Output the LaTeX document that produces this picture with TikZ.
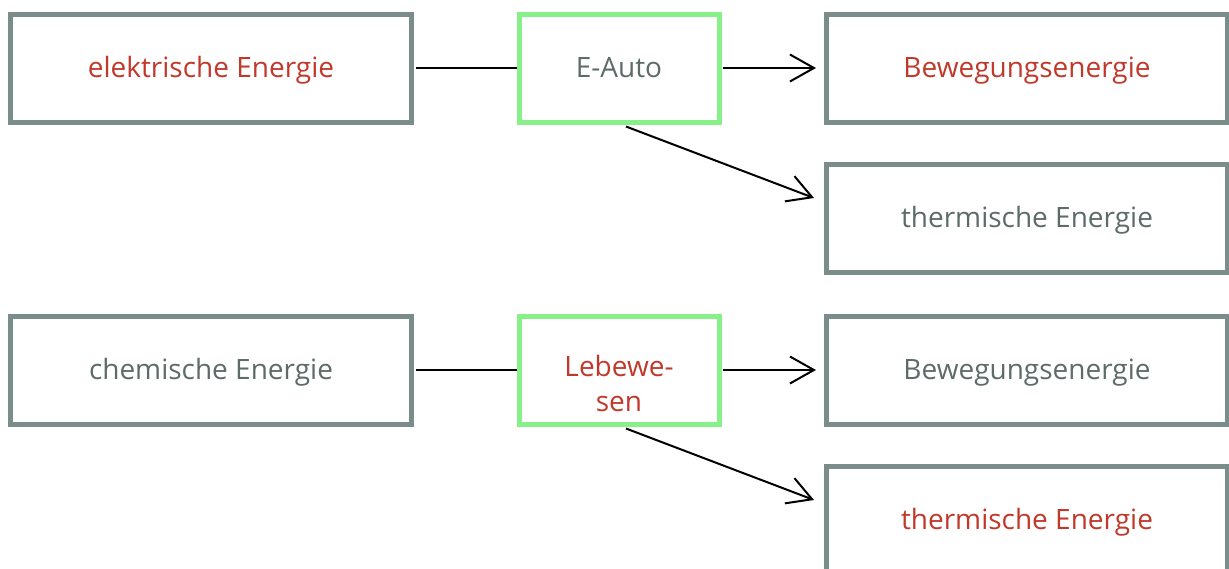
\documentclass[tikz,border=0pt]{standalone}
\usepackage{fontspec}
\setmainfont{Open Sans}
\usepackage{tikz}
\usetikzlibrary{positioning,arrows.meta}

\definecolor{boxgray}{RGB}{123,141,139}
\definecolor{boxgreen}{RGB}{136,240,136}
\definecolor{txtgray}{RGB}{93,107,105}
\definecolor{txtred}{RGB}{192,57,43}

\tikzset{
  energy/.style={draw=boxgray, line width=5pt, minimum width=401pt, minimum height=108pt, inner sep=0pt, text=txtgray, text height=23pt, text depth=4pt},
  converter/.style={draw=boxgreen, line width=5pt, minimum width=200pt, minimum height=108pt, inner sep=0pt, text=txtgray, align=center, text height=23pt, text depth=4pt},
  link/.style={line width=2pt, black},
  flow/.style={link, -{Straight Barb[length=24pt,width=27pt,line width=2pt]}}
}

\begin{document}
\begin{tikzpicture}[x=1pt, y=-1pt, font=\fontsize{28}{35}\selectfont]
\useasboundingbox (0,0) rectangle (1229,568);
% top row
\node[energy, text=txtred] (elek_a) at (211,68) {elektrische Energie};
\node[converter] (auto_b) at (619,68) {E-Auto};
\node[energy, text=txtred] (beweg_a) at (1027,68) {Bewegungsenergie};
\node[energy] (therm_a) at (1027,218) {thermische Energie};
% bottom row
\node[energy] (chem_a) at (211,370) {chemische Energie};
\node[converter, text=txtred, text height=86pt, text depth=4pt] (leben_b) at (619,370) {Lebewe-\\sen};
\node[energy] (beweg_b) at (1027,370) {Bewegungsenergie};
\node[energy, text=txtred] (therm_b) at (1027,520) {thermische Energie};
\draw[link, shorten <=2pt, shorten >=0pt] (elek_a) to (auto_b);
\draw[flow, shorten <=1pt, shorten >=8pt] (auto_b) to (beweg_a);
\draw[flow] ([xshift=7pt,yshift=-2pt]auto_b.south) to ([xshift=-10pt,yshift=20pt]therm_a.west);
\draw[link, shorten <=2pt, shorten >=0pt] (chem_a) to (leben_b);
\draw[flow, shorten <=1pt, shorten >=8pt] (leben_b) to (beweg_b);
\draw[flow] ([xshift=7pt,yshift=-2pt]leben_b.south) to ([xshift=-10pt,yshift=20pt]therm_b.west);
\end{tikzpicture}
\end{document}
